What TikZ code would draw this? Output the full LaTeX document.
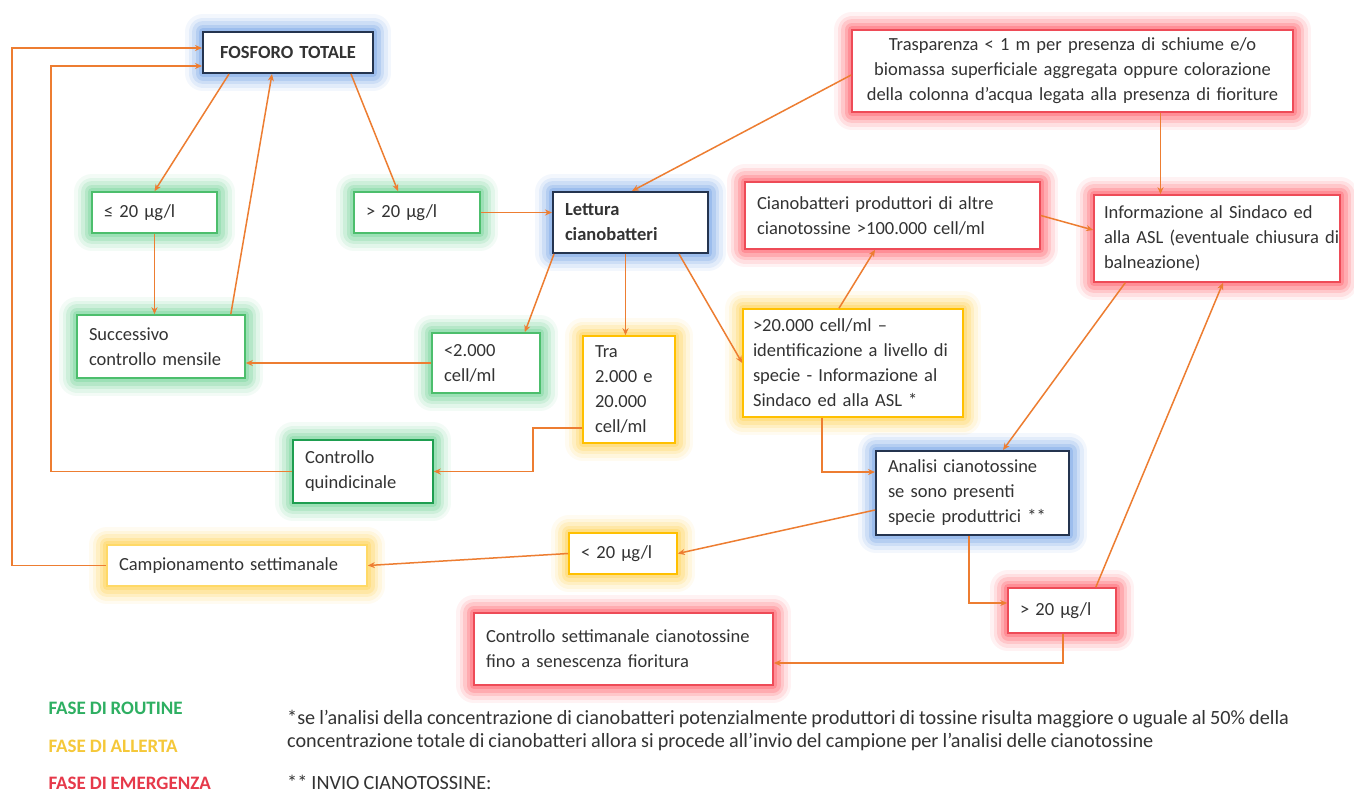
\documentclass[tikz,border=0pt]{standalone}
\usepackage{fontspec}
\setmainfont{Carlito}[WordSpace=0.9]
\usepackage{tikz}
\usetikzlibrary{arrows.meta}
\definecolor{arrowor}{HTML}{ED7D31}
\definecolor{txtgray}{HTML}{333333}
\definecolor{bdnavy}{HTML}{24344F}
\definecolor{bdgreen}{HTML}{4CBE6C}
\definecolor{bddkgreen}{HTML}{1E9E50}
\definecolor{bdyellow}{HTML}{FFC000}
\definecolor{bdltyellow}{HTML}{FFD966}
\definecolor{bdred}{HTML}{EE4B57}
\definecolor{glowblue}{HTML}{6F9FE6}
\definecolor{glowgreen}{HTML}{6FD395}
\definecolor{glowyellow}{HTML}{FFD24D}
\definecolor{glowred}{HTML}{FF5A66}
\definecolor{legreen}{HTML}{2EAF62}
\definecolor{leyellow}{HTML}{F5C83A}
\definecolor{lered}{HTML}{E6394A}
\newcommand{\boxfont}{\fontsize{18.5}{25}\selectfont}
\newcommand{\notefont}{\fontsize{20.2}{23}\selectfont}
\tikzset{
  box/.style={rectangle, fill=white, line width=1.6pt, text=txtgray, font=\boxfont,
              align=left, inner xsep=12pt, inner ysep=4pt},
  glow/.style={preaction={draw=#1, line width=36pt, opacity=.08, line join=round},
               preaction={draw=#1, line width=29pt, opacity=.12, line join=round},
               preaction={draw=#1, line width=22pt, opacity=.18, line join=round},
               preaction={draw=#1, line width=15pt, opacity=.25, line join=round},
               preaction={draw=#1, line width=8pt, opacity=.35, line join=round}}, % soft halo
  routine/.style={box, draw=bdgreen, glow=glowgreen},
  allerta/.style={box, draw=bdyellow, glow=glowyellow},
  emergenza/.style={box, draw=bdred, glow=glowred},
  analisi/.style={box, draw=bdnavy, line width=2pt, glow=glowblue},
  arr/.style={-{Stealth[length=7pt,width=6pt]}, draw=arrowor, line width=1.5pt},
  legend/.style={anchor=west, font=\fontsize{19}{20}\selectfont\bfseries},
  note/.style={anchor=west, align=left, text=txtgray, font=\notefont, inner sep=0pt},
}

\begin{document}
\begin{tikzpicture}[x=1pt, y=-1pt]
  \useasboundingbox[fill=white] (0,0) rectangle (1354,793);

  \node[analisi, align=center, font=\boxfont\bfseries, text width=146pt, minimum height=41pt] (fosforo) at (288,52.5) {FOSFORO TOTALE};
  \node[routine, text width=101pt, minimum height=41pt] (le20) at (154.5,212.5) {≤ 20 µg/l};
  \node[routine, text width=102pt, minimum height=41pt] (gt20) at (417,212.5) {> 20 µg/l};
  \node[analisi, font=\boxfont\bfseries, text width=131pt, minimum height=61pt] (lettura) at (630.5,222.5) {Lettura\\cianobatteri};
  \node[emergenza, align=center, text width=417pt, minimum height=82pt] (traspar) at (1072.5,71) {Trasparenza < 1 m per presenza di schiume e/o\\biomassa superficiale aggregata oppure colorazione\\della colonna d’acqua legata alla presenza di fioriture};
  \node[emergenza, text width=271pt, minimum height=67pt] (cianoprod) at (892.5,215.5) {Cianobatteri produttori di altre\\cianotossine >100.000 cell/ml};
  \node[emergenza, text width=226pt, inner xsep=10pt, minimum height=87pt] (inform) at (1217,238.5) {Informazione al Sindaco ed\\\mbox{alla ASL (eventuale chiusura di}\\balneazione)};
  \node[routine, text width=144pt, minimum height=63pt] (succ) at (161,346.5) {Successivo\\controllo mensile};
  \node[routine, text width=84pt, minimum height=60pt] (lt2k) at (486,363) {<2.000\\cell/ml};
  \node[allerta, text width=68pt, minimum height=107pt] (tra) at (629,389.5) {Tra\\2.000 e\\20.000\\cell/ml};
  \node[allerta, text width=200pt, inner xsep=10pt, minimum height=108pt] (gt20k) at (853,363) {>20.000 cell/ml –\\\mbox{identificazione a livello di}\\specie - Informazione al\\Sindaco ed alla ASL *};
  \node[routine, draw=bddkgreen, text width=116pt, minimum height=63pt] (quind) at (363,471.5) {Controllo\\quindicinale};
  \node[analisi, text width=169pt, minimum height=84pt] (analisi) at (972.5,493) {Analisi cianotossine\\se sono presenti\\specie produttrici **};
  \node[allerta, draw=bdltyellow, text width=236pt, minimum height=41pt] (campion) at (237,565.5) {Campionamento settimanale};
  \node[allerta, text width=84pt, minimum height=41pt] (lt20) at (623,553.5) {< 20 µg/l};
  \node[emergenza, text width=84pt, minimum height=45pt] (gt20r) at (1062,610.5) {> 20 µg/l};
  \node[emergenza, text width=275pt, minimum height=72pt] (ctrlsett) at (623.5,649) {Controllo settimanale cianotossine\\fino a senescenza fioritura};

  \node[legend, text=legreen] (leg1) at (45,708) {FASE DI ROUTINE};
  \node[legend, text=leyellow] (leg2) at (45,746) {FASE DI ALLERTA};
  \node[legend, text=lered] (leg3) at (45,783) {FASE DI EMERGENZA};
  \node[note] (nota1) at (287,730.5) {*se l’analisi della concentrazione di cianobatteri potenzialmente produttori di tossine risulta maggiore o uguale al 50\% della\\concentrazione totale di cianobatteri allora si procede all’invio del campione per l’analisi delle cianotossine};
  \node[note] (nota2) at (287,782) {** INVIO CIANOTOSSINE:};

  \draw[arr] (campion.west) -- ++(-94,0) |- ([yshift=4.5pt]fosforo.west);
  \draw[arr] (quind.west) -- ++(-241,0) |- ([yshift=-13.5pt]fosforo.west);
  \draw[arr] ([xshift=27pt]fosforo.south west) -- (le20.north);
  \draw[arr] ([xshift=-23pt]fosforo.south east) -- ([xshift=-19pt]gt20.north);
  \draw[arr] ([xshift=-15pt]succ.north east) -- ([xshift=-16pt]fosforo.south);
  \draw[arr] (le20.south) -- (le20.south |- succ.north);
  \draw[arr] (gt20.east) -- (gt20.east -| lettura.west);
  \draw[arr] ([yshift=-4pt]traspar.west) -- ([xshift=1.5pt]lettura.north);
  \draw[arr] ([xshift=88pt]traspar.south) -- ([xshift=88pt]traspar.south |- inform.north);
  \draw[arr] (cianoprod.east) -- ([yshift=8.5pt]inform.west);
  \draw[arr] ([xshift=2pt]lettura.south west) -- ([xshift=-16pt]lt2k.north east);
  \draw[arr] ([xshift=-5pt]lettura.south) -- ([xshift=-5pt]lettura.south |- tra.north);
  \draw[arr] ([xshift=-30pt]lettura.south east) -- (gt20k.west);
  \draw[arr] (lt2k.west) -- (lt2k.west -| succ.east);
  \draw[arr] ([yshift=-38.5pt]tra.west) -- ++(-49,0) |- (quind.east);
  \draw[arr] ([xshift=-14pt]gt20k.north) -- ([xshift=-17.5pt]cianoprod.south);
  \draw[arr] ([xshift=-31pt]gt20k.south) |- ([yshift=21pt]analisi.west);
  \draw[arr] ([xshift=32pt]inform.south west) -- ([xshift=30.5pt]analisi.north);
  \draw[arr] ([yshift=-17pt]analisi.west) -- (lt20.east);
  \draw[arr] (lt20.west) -- (campion.east);
  \draw[arr] ([xshift=-3.5pt]analisi.south) |- ([yshift=7.5pt]gt20r.west);
  \draw[arr] ([xshift=-21pt]gt20r.north east) -- ([xshift=6pt]inform.south);
  \draw[arr] ([xshift=1pt]gt20r.south) |- ([yshift=-14pt]ctrlsett.east);
\end{tikzpicture}
\end{document}
